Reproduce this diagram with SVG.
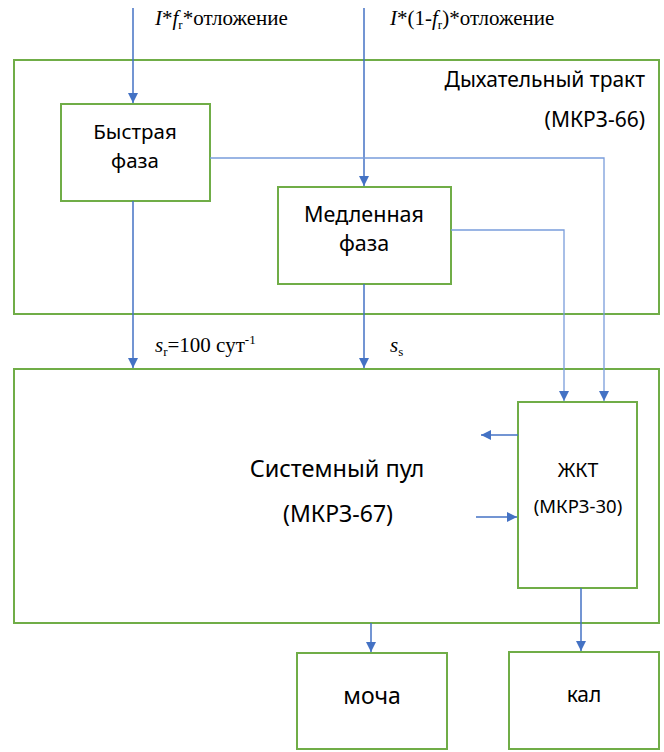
<svg xmlns="http://www.w3.org/2000/svg" width="664" height="752" viewBox="0 0 664 752">
<defs>
<marker id="ah" viewBox="0 0 10 10" refX="10" refY="5" markerWidth="10" markerHeight="10" markerUnits="userSpaceOnUse" orient="auto">
<path d="M0,0 L10,5 L0,10 z" fill="#4472C4"/>
</marker>
</defs>
<style>
.box{fill:none;stroke:#70AD47;stroke-width:2}
.wbox{fill:#fff;stroke:#70AD47;stroke-width:2}
.c{fill:none;stroke:#4472C4;stroke-width:1.5}
.cl{fill:none;stroke:#7A9DDB;stroke-width:1.3}
.t{font-family:"Noto Sans","Open Sans",sans-serif;fill:#000}
.s{font-family:"Liberation Serif","Times New Roman",serif;fill:#000;font-size:21px}
.sub{font-size:13px}
</style>
<rect width="664" height="752" fill="#fff"/>
<g id="resp_tract">
<rect class="box" x="14" y="60" width="645" height="254"/>
<text class="t" x="645" y="87" font-size="21" text-anchor="end">Дыхательный тракт</text>
<text class="t" x="645" y="127" font-size="21" text-anchor="end">(МКРЗ-66)</text>
</g>
<g id="fast_phase">
<rect class="wbox" x="61" y="104" width="149" height="97"/>
<text class="t" x="135" y="139" font-size="20.5" text-anchor="middle">Быстрая</text>
<text class="t" x="135" y="168" font-size="20.5" text-anchor="middle">фаза</text>
</g>
<g id="slow_phase">
<rect class="wbox" x="278" y="187" width="173" height="97"/>
<text class="t" x="364" y="222" font-size="21.5" text-anchor="middle">Медленная</text>
<text class="t" x="364" y="251" font-size="21.5" text-anchor="middle">фаза</text>
</g>
<g id="systemic_pool">
<rect class="box" x="14" y="369" width="645" height="254"/>
<text class="t" x="337" y="477" font-size="23.5" text-anchor="middle">Системный пул</text>
<text class="t" x="338" y="522" font-size="23" text-anchor="middle">(МКРЗ-67)</text>
</g>
<g id="git">
<rect class="wbox" x="518" y="402" width="119" height="186"/>
<text class="t" x="578" y="477" font-size="19.5" text-anchor="middle">ЖКТ</text>
<text class="t" x="578" y="513" font-size="18.5" text-anchor="middle">(МКРЗ-30)</text>
</g>
<g id="urine">
<rect class="wbox" x="297" y="653" width="150" height="96"/>
<text class="t" x="372" y="704" font-size="23" text-anchor="middle">моча</text>
</g>
<g id="feces">
<rect class="wbox" x="509" y="652" width="150" height="97"/>
<text class="t" x="584" y="702" font-size="21" text-anchor="middle">кал</text>
</g>
<g id="connectors">
<line class="c" x1="133" y1="8" x2="133" y2="103" marker-end="url(#ah)"/>
<line class="c" x1="364" y1="8" x2="364" y2="186" marker-end="url(#ah)"/>
<line class="c" x1="133" y1="201" x2="133" y2="368" marker-end="url(#ah)"/>
<line class="c" x1="364" y1="284" x2="364" y2="368" marker-end="url(#ah)"/>
<polyline class="cl" points="210,158 604,158 604,401" marker-end="url(#ah)"/>
<polyline class="cl" points="451,230 564,230 564,401" marker-end="url(#ah)"/>
<line class="c" x1="518" y1="435" x2="481" y2="435" marker-end="url(#ah)"/>
<line class="c" x1="476" y1="517" x2="517" y2="517" marker-end="url(#ah)"/>
<line class="c" x1="371" y1="623" x2="371" y2="652" marker-end="url(#ah)"/>
<line class="c" x1="581" y1="588" x2="581" y2="651" marker-end="url(#ah)"/>
</g>
<g id="labels">
<text class="s" x="155" y="25"><tspan font-style="italic">I</tspan>*<tspan font-style="italic">f</tspan><tspan class="sub" dy="4">r</tspan><tspan dy="-4">*отложение</tspan></text>
<text class="s" x="390" y="25"><tspan font-style="italic">I</tspan>*(1-<tspan font-style="italic">f</tspan><tspan class="sub" dy="4">r</tspan><tspan dy="-4">)*отложение</tspan></text>
<text class="s" x="155" y="352"><tspan font-style="italic">s</tspan><tspan class="sub" dy="4">r</tspan><tspan dy="-4">=100 сут</tspan><tspan class="sub" dy="-8">-1</tspan></text>
<text class="s" x="390" y="352"><tspan font-style="italic">s</tspan><tspan class="sub" dy="4">s</tspan></text>
</g>
</svg>
